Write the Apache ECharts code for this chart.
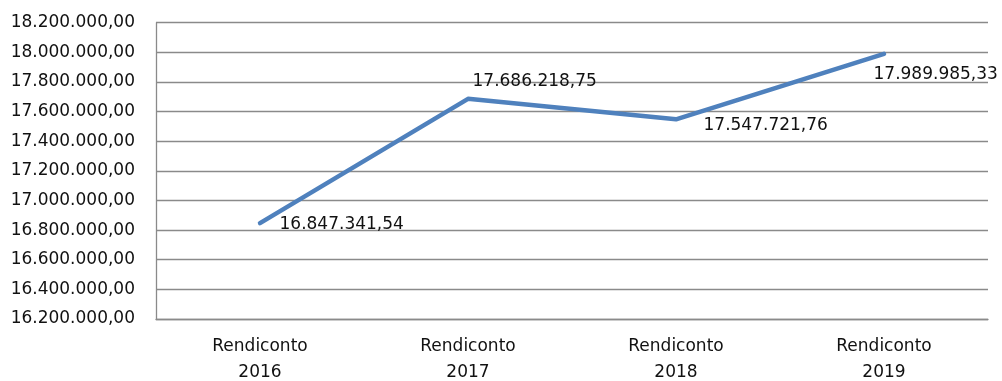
<!DOCTYPE html>
<html>
<head>
<meta charset="utf-8">
<script src="https://cdn.jsdelivr.net/npm/echarts@6/dist/echarts.min.js"></script>
<style>
  html, body { margin: 0; padding: 0; background: #fff; }
  #chart { width: 1002px; height: 381px; }
</style>
</head>
<body>
<div id="chart"></div>
<script>
// Categories and values
const categories = ['Rendiconto\n2016', 'Rendiconto\n2017', 'Rendiconto\n2018', 'Rendiconto\n2019'];
const values = [16847341.54, 17686218.75, 17547721.76, 17989985.33];
// Per-point label shifts [dx, dy]
const labelOffsets = [[14, 1], [-1, -17], [22, 6], [-16, 21]];

// Italian number format: 1.234.567,89
function fmtIt(v) {
  const fixed = Math.abs(v).toFixed(2);
  const parts = fixed.split('.');
  const intPart = parts[0].replace(/\B(?=(\d{3})+(?!\d))/g, '.');
  return (v < 0 ? '-' : '') + intPart + ',' + parts[1];
}

const FONT = 'DejaVu Sans';
const TEXT = '#111111';
const GRID = '#8a8a8a';

const chart = echarts.init(document.getElementById('chart'), null, { renderer: 'canvas' });
chart.setOption({
  animation: false,
  backgroundColor: '#ffffff',
  grid: { left: 156, right: 14, top: 22.7, bottom: 62, containLabel: false, outerBoundsMode: 'none' },
  xAxis: {
    type: 'category',
    data: categories,
    boundaryGap: true,
    axisLine: { show: true, lineStyle: { color: GRID, width: 1.3 } },
    axisTick: { show: false },
    axisLabel: {
      margin: 15,
      color: TEXT,
      fontFamily: FONT,
      fontSize: 17,
      lineHeight: 26
    }
  },
  yAxis: {
    type: 'value',
    min: 16200000,
    max: 18200000,
    interval: 200000,
    axisLine: { show: true, lineStyle: { color: GRID, width: 1.3 } },
    axisTick: { show: false },
    splitLine: { show: true, lineStyle: { color: GRID, width: 1.3 } },
    axisLabel: {
      margin: 21,
      color: TEXT,
      fontFamily: FONT,
      fontSize: 17,
      formatter: fmtIt
    }
  },
  series: [{
    type: 'line',
    data: values,
    symbol: 'circle',
    symbolSize: 1,
    showSymbol: true,
    lineStyle: { color: '#4F81BD', width: 4.5, cap: 'round', join: 'round' },
    itemStyle: { color: 'rgba(0,0,0,0)', borderWidth: 0 },
    label: {
      show: true,
      position: 'right',
      distance: 5,
      color: TEXT,
      fontFamily: FONT,
      fontSize: 17,
      formatter: p => fmtIt(p.value)
    },
    labelLayout: function (params) {
      const off = labelOffsets[params.dataIndex] || [0, 0];
      return { dx: off[0], dy: off[1], hideOverlap: false };
    }
  }]
});
</script>
</body>
</html>
